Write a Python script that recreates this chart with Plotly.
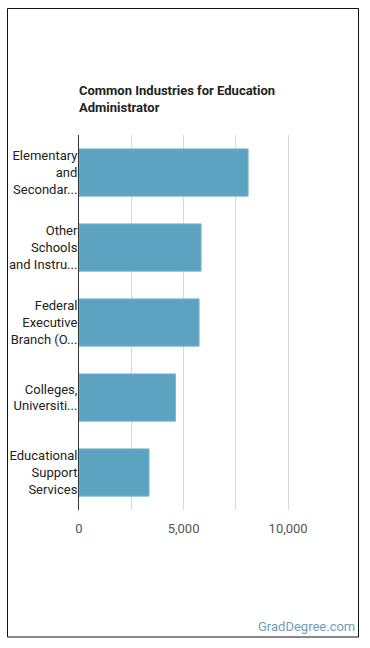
import plotly.graph_objects as go

categories = [
    "Elementary<br>and<br>Secondar...",
    "Other<br>Schools<br>and Instru...",
    "Federal<br>Executive<br>Branch (O...",
    "Colleges,<br>Universiti...",
    "Educational<br>Support<br>Services",
]
values = [8086, 5837, 5742, 4610, 3349]
x_ticks = [0, 2500, 5000, 7500, 10000]
x_tick_labels = ["0", "", "5,000", "", "10,000"]

W, H = 370, 648
L, R, T, B = 79, 30, 135, 138
pw = W - L - R
ph = H - T - B

def px_x(p):
    return (p - L) / pw

def px_y(p):
    return (H - B - p) / ph

fig = go.Figure(
    go.Bar(
        x=values,
        y=categories,
        orientation="h",
        marker=dict(color="#5ba3c0", line=dict(color="#7db5cb", width=1)),
        hoverinfo="skip",
    )
)

fig.update_layout(
    width=W,
    height=H,
    margin=dict(l=L, r=R, t=T, b=B, pad=0, autoexpand=False),
    paper_bgcolor="white",
    plot_bgcolor="white",
    bargap=0.37,
    showlegend=False,
    font=dict(family="Roboto", size=13, color="#222"),
    xaxis=dict(
        range=[0, 12480],
        tickvals=x_ticks,
        ticktext=x_tick_labels,
        showgrid=True,
        gridcolor="#d9d9d9",
        gridwidth=1,
        zeroline=False,
        showline=False,
        ticks="",
        ticklabelstandoff=9,
        automargin=False,
        tickfont=dict(family="Roboto", size=13, color="#555"),
        fixedrange=True,
    ),
    yaxis=dict(
        autorange="reversed",
        showgrid=False,
        zeroline=False,
        showline=True,
        linecolor="#333",
        linewidth=1,
        ticks="",
        ticklabelstandoff=-2,
        automargin=False,
        tickfont=dict(family="Roboto", size=13, color="#222"),
        fixedrange=True,
    ),
    annotations=[
        dict(
            text="<b>Common Industries for Education<br>Administrator</b>",
            x=0, xref="paper", xanchor="left", xshift=-2,
            y=px_y(81), yref="paper", yanchor="top",
            showarrow=False, align="left",
            font=dict(family="Roboto", size=13, color="#222"),
        ),
        dict(
            text="GradDegree.com",
            x=px_x(357), xref="paper", xanchor="right",
            y=px_y(626), yref="paper", yanchor="middle",
            showarrow=False,
            font=dict(family="Roboto", size=13, color="#6f9dbb"),
        ),
    ],
    shapes=[
        dict(
            type="rect", xref="paper", yref="paper",
            x0=px_x(7.5), x1=px_x(358.5), y0=px_y(637), y1=px_y(8.5),
            line=dict(color="#111", width=1), fillcolor="rgba(0,0,0,0)",
            layer="below",
        )
    ],
)

fig.write_html("out.html")
